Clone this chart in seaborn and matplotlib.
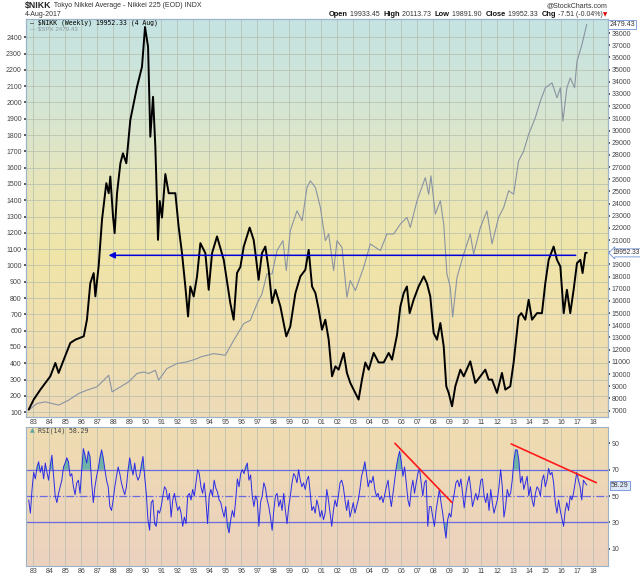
import numpy as np
import pandas as pd
import matplotlib
matplotlib.use("Agg")
import matplotlib.pyplot as plt
import matplotlib.transforms as mtransforms
from matplotlib.text import Annotation
from matplotlib.colors import LinearSegmentedColormap
import seaborn as sns

# --- data ---
nikkei_year = [1982.71, 1983.02, 1983.44, 1984.06, 1984.375, 1984.58, 1984.9, 1985.31, 1985.625, 1986.15,
               1986.35, 1986.56, 1986.77, 1986.875, 1987.08, 1987.29, 1987.40, 1987.56, 1987.71, 1987.81,
               1987.98, 1988.08, 1988.23, 1988.44, 1988.6, 1988.81, 1989.06, 1989.27, 1989.48, 1989.79,
               1989.98, 1990.17, 1990.31, 1990.48, 1990.625, 1990.73, 1990.79, 1990.9, 1991.04, 1991.25,
               1991.46, 1991.875, 1992.08, 1992.29, 1992.5, 1992.67, 1992.81, 1993.02, 1993.23, 1993.44,
               1993.75, 1993.96, 1994.17, 1994.48, 1994.9, 1995.31, 1995.52, 1995.73, 1995.94, 1996.15,
               1996.52, 1996.77, 1996.88, 1997.08, 1997.29, 1997.5, 1997.71, 1997.92, 1998.13, 1998.44,
               1998.81, 1999.06, 1999.38, 1999.69, 2000.0, 2000.21, 2000.42, 2000.63, 2000.84, 2001.04,
               2001.25, 2001.46, 2001.67, 2001.88, 2002.08, 2002.4, 2002.6, 2002.81, 2003.02, 2003.33,
               2003.54, 2003.75, 2003.96, 2004.27, 2004.58, 2004.9, 2005.21, 2005.42, 2005.73, 2005.94,
               2006.15, 2006.35, 2006.52, 2006.77, 2007.08, 2007.4, 2007.6, 2007.81, 2008.02, 2008.23,
               2008.44, 2008.65, 2008.81, 2008.96, 2009.17, 2009.375, 2009.69, 2009.9, 2010.31, 2010.625,
               2010.94, 2011.25, 2011.46, 2011.67, 2011.98, 2012.29, 2012.5, 2012.81, 2013.02, 2013.33,
               2013.5, 2013.75, 2013.96, 2014.17, 2014.48, 2014.79, 2015.0, 2015.21, 2015.52, 2015.73,
               2015.94, 2016.15, 2016.35, 2016.56, 2016.77, 2016.98, 2017.19, 2017.33, 2017.5, 2017.59]
nikkei_close = [7080, 7900, 8720, 9815, 10910, 10090, 11180, 12550, 12820, 13095,
                14460, 17470, 18290, 16380, 18840, 22660, 23890, 25680, 24850, 26220,
                22930, 21570, 24850, 27310, 28130, 27310, 30860, 32230, 33590, 35230,
                38500, 36870, 29490, 32770, 28670, 24030, 21020, 24210, 22850, 26430,
                24850, 24850, 22110, 19930, 17190, 14730, 17190, 16370, 18010, 20750,
                19930, 16920, 19930, 21300, 19380, 15830, 14460, 18300, 18800, 20470,
                22030, 21020, 19930, 17740, 19930, 20470, 18560, 15830, 16920, 15550,
                13090, 13910, 16650, 18020, 18560, 20200, 17190, 16650, 15280, 13640,
                14460, 12820, 9810, 10630, 10360, 11730, 10090, 9270, 8720, 7900,
                9540, 10950, 10360, 11730, 10950, 10950, 11730, 11180, 13200, 15550,
                16650, 17190, 15000, 16100, 17190, 18020, 17460, 16370, 13370, 12820,
                14190, 12270, 8990, 8450, 7350, 8990, 10360, 9810, 11040, 9270,
                9810, 10360, 9540, 9540, 8450, 10090, 8720, 8990, 10950, 14730,
                15000, 14460, 16100, 14460, 15000, 15000, 17460, 19380, 20470, 19380,
                18830, 15000, 16920, 15000, 16920, 19110, 19380, 18290, 19950, 19952.33]

spx_year = [1982.71, 1983.23, 1983.75, 1984.58, 1985.2, 1985.83, 1986.35, 1986.98, 1987.4, 1987.71,
            1987.92, 1988.44, 1988.96, 1989.48, 1989.9, 1990.21, 1990.625, 1990.83, 1991.35, 1991.98,
            1992.6, 1993.23, 1993.44, 1994.27, 1995.0, 1995.52, 1996.15, 1996.56, 1996.98, 1997.29,
            1997.6, 1997.92, 1998.23, 1998.6, 1998.81, 1999.06, 1999.48, 1999.8, 2000.1, 2000.31,
            2000.63, 2000.94, 2001.25, 2001.46, 2001.77, 2001.98, 2002.29, 2002.6, 2002.81, 2003.13,
            2003.65, 2004.06, 2004.69, 2005.1, 2005.52, 2005.94, 2006.35, 2006.56, 2006.98, 2007.5,
            2007.71, 2007.85, 2008.125, 2008.44, 2008.65, 2008.85, 2009.06, 2009.21, 2009.48, 2009.9,
            2010.31, 2010.52, 2010.94, 2011.35, 2011.67, 2012.08, 2012.4, 2012.71, 2013.02, 2013.33,
            2013.65, 2013.96, 2014.375, 2014.69, 2015.0, 2015.42, 2015.73, 2015.94, 2016.1, 2016.35,
            2016.56, 2016.83, 2016.98, 2017.29, 2017.59]
spx_close = [112, 153, 163, 143, 173, 214, 235, 255, 296, 326,
             224, 255, 286, 337, 346, 337, 357, 296, 367, 398,
             408, 428, 438, 459, 449, 540, 643, 663, 765, 826,
             948, 948, 1091, 1152, 968, 1213, 1335, 1274, 1478, 1519,
             1478, 1356, 1152, 1193, 968, 1152, 1111, 805, 907, 846,
             989, 1132, 1091, 1193, 1193, 1254, 1295, 1233, 1397, 1539,
             1437, 1550, 1315, 1397, 1254, 948, 866, 683, 927, 1070,
             1193, 1070, 1233, 1335, 1132, 1295, 1356, 1458, 1437, 1641,
             1702, 1805, 1906, 2008, 2090, 2120, 2029, 2090, 1886, 2090,
             2150, 2090, 2253, 2355, 2479.43]

rsi_values = [47, 37, 55, 68, 63, 72, 76, 68, 73, 63, 75, 68, 62, 73, 81, 65, 50, 45, 52, 57,
              62, 72, 75, 79, 76, 65, 67, 57, 51, 60, 62, 52, 70, 86, 81, 75, 84, 80, 60, 45,
              57, 65, 71, 79, 85, 79, 70, 62, 57, 42, 39, 47, 57, 65, 72, 67, 60, 55, 51, 57,
              70, 79, 72, 66, 75, 66, 62, 65, 73, 80, 65, 52, 32, 24, 45, 47, 29, 27, 39, 37,
              42, 50, 57, 55, 47, 52, 34, 47, 52, 45, 39, 42, 37, 27, 34, 29, 50, 52, 47, 55,
              50, 60, 70, 67, 57, 52, 60, 47, 29, 50, 55, 50, 62, 56, 53,
              47, 45, 39, 34, 42, 27, 22, 32, 39, 34, 47, 63, 57, 67, 70, 67, 72, 75, 62, 66,
              50, 42, 50, 47, 27, 45, 50, 60, 56, 47, 42, 34, 24, 39, 50, 52, 42, 47, 39, 52,
              39, 29, 42, 50, 60, 67, 65, 60, 70, 62, 57, 60, 55, 62, 65, 52, 39, 42, 37, 47,
              42, 34, 39, 32, 37, 55, 47, 37, 27, 39, 47, 42, 50, 60, 62, 57, 47, 39, 47, 34,
              39, 45, 37, 42, 47, 55, 65, 70, 76, 67, 57, 62, 60, 65, 55, 50, 52, 47, 50, 45,
              51, 57, 62, 50, 42, 52, 62, 72, 79, 84, 76, 65, 72, 60, 47, 42, 55, 62, 52, 60,
              67, 71, 60, 50, 60, 62, 27, 42,
              42, 34, 27, 39, 47, 55, 45, 37, 27, 18, 32, 37, 34, 45, 52, 60, 62, 57, 63, 52,
              41, 52, 60, 65, 55, 42, 47, 52, 47, 52, 62, 63, 50, 45, 52, 39, 55, 45, 37, 42,
              47, 57, 70, 57, 34, 42, 55, 50, 52, 62, 77, 85, 85, 77, 60, 65, 55, 60, 65, 50,
              57, 47, 42, 52, 57, 55, 50, 62, 66, 57, 62, 71, 66, 68, 60, 45, 37, 47, 39, 33,
              27, 39, 45, 39, 50, 47, 52, 60, 68, 62, 57, 47, 62, 60, 58.29]
rsi_first, rsi_last = 1982.71, 2017.59

year_ticks = list(range(1983, 2019))
year_labels = [f"{y % 100:02d}" for y in year_ticks]
spx_ticks = list(range(100, 2401, 100))
nikkei_ticks = list(range(7000, 38001, 1000))
rsi_ticks = [10, 30, 50, 70, 90]

trend1_x, trend1_y = [2005.6, 2009.17], [90, 45]
trend2_x, trend2_y = [2012.87, 2018.19], [89.5, 60.1]
level_from, level_to, level_value = 2016.9, 1987.7, 19750

nikkei_df = pd.DataFrame({"year": nikkei_year, "close": nikkei_close})
spx_df = pd.DataFrame({"year": spx_year, "close": spx_close})
rsi_df = pd.DataFrame({"year": np.linspace(rsi_first, rsi_last, len(rsi_values)), "rsi": rsi_values})

sns.set_theme(style="white")
plt.rcParams["font.family"] = ["Liberation Sans", "DejaVu Sans"]

W, H = 640, 576
fig = plt.figure(figsize=(W / 100, H / 100), dpi=100)
fig.patch.set_facecolor("white")


def rect(x0, y0, x1, y1):
    return [x0 / W, 1 - y1 / H, (x1 - x0) / W, (y1 - y0) / H]


main_rect = rect(26, 19, 607.7, 417)
rsi_rect = rect(26, 426.7, 607.7, 565.7)


def gradient(r, colors):
    bg = fig.add_axes(r, zorder=0)
    cmap = LinearSegmentedColormap.from_list("bg", colors)
    bg.imshow(np.linspace(0, 1, 256).reshape(-1, 1), aspect="auto", cmap=cmap,
              extent=[0, 1, 0, 1], origin="upper")
    bg.set_axis_off()


gradient(main_rect, ["#c4e3e2", "#d3e5d6", "#e6e6bc", "#f1e5a8", "#f0dfb0", "#eedbb8"])
gradient(rsi_rect, ["#efdcb0", "#edd6b8", "#ebd2c0"])

grid_c = "#b4bdad"
spine_c = "#9db3c8"
tick_c = "#444444"
xlim = (1982.54, 2018.9)

# --- price panel ---
ax = fig.add_axes(main_rect, zorder=1)
ax.set_facecolor("none")
sns.lineplot(data=spx_df, x="year", y="close", ax=ax, color="#8a94a2", lw=0.8,
             estimator=None, sort=False)
ax.set_xlim(*xlim)
ax.set_ylim(70, 2512)
ax.set_yticks(spx_ticks)
ax.set_xticks(year_ticks)
ax.set_xticklabels(year_labels)
ax.grid(True, color=grid_c, lw=0.5)
ax.tick_params(axis="y", labelsize=5, length=1.5, pad=1.5, colors=tick_c, left=True)
ax.tick_params(axis="x", labelsize=5, length=0, pad=1.5, colors=tick_c, bottom=True)
ax.set_xlabel("")
ax.set_ylabel("")

ax2 = ax.twinx()
sns.lineplot(data=nikkei_df, x="year", y="close", ax=ax2, color="black", lw=1.4,
             estimator=None, sort=False)
ax2.set_ylim(6470, 39160)
ax2.set_yticks(nikkei_ticks)
ax2.set_yticklabels(["" if t == 20000 else str(t) for t in nikkei_ticks])
ax2.tick_params(axis="y", labelsize=5, length=1.5, pad=1.5, colors=tick_c, right=True)
ax2.set_ylabel("")
ax2.set_xlim(*xlim)
ax2.annotate("", xy=(level_to, level_value), xytext=(level_from, level_value),
             arrowprops=dict(arrowstyle="-|>", color="#0000dd", lw=1.1,
                             mutation_scale=9, shrinkA=0, shrinkB=0))
for a in (ax, ax2):
    for s in a.spines.values():
        s.set_color(spine_c)
        s.set_linewidth(0.8)

right_tr = mtransforms.blended_transform_factory(ax.transAxes, ax.transData)
ax.text(1.003, spx_close[-1], f"{spx_close[-1]:.2f}", transform=right_tr, fontsize=5,
        va="center", ha="left", color="#333333",
        bbox=dict(boxstyle="square,pad=0.15", fc="white", ec="#6c8fd4", lw=0.6))
right_tr2 = mtransforms.blended_transform_factory(ax2.transAxes, ax2.transData)
ax2.text(1.009, nikkei_close[-1], f"{nikkei_close[-1]:.2f}", transform=right_tr2, fontsize=4.8,
         va="center", ha="left", color="#333333",
         bbox=dict(boxstyle="larrow,pad=0.08", fc="white", ec="#6c8fd4", lw=0.6))

ax.text(0.007, 0.991, "— $NIKK (Weekly) 19952.33 (4 Aug)", transform=ax.transAxes,
        fontsize=4.7, family=["DejaVu Sans Mono"], color="black", va="center", ha="left")
ax.text(0.007, 0.975, "— $SPX 2479.43", transform=ax.transAxes, fontsize=4.4,
        color="#8a94a2", va="center", ha="left")

# --- RSI panel ---
rax = fig.add_axes(rsi_rect, zorder=1)
rax.set_facecolor("none")
rx = rsi_df["year"].to_numpy()
ry = rsi_df["rsi"].to_numpy()
rax.fill_between(rx, ry, 70, where=ry > 70, interpolate=True, color="#6fb2a6", lw=0)
rax.fill_between(rx, ry, 30, where=ry < 30, interpolate=True, color="#6fb2a6", lw=0)
for lvl in (70, 30):
    rax.axhline(lvl, color="#6a6ae0", lw=0.9)
rax.axhline(50, color="#6a6ae0", lw=0.9, ls="-.")
sns.lineplot(data=rsi_df, x="year", y="rsi", ax=rax, color="#2b2be6", lw=0.7,
             estimator=None, sort=False)
rax.plot(trend1_x, trend1_y, color="#ff1a1a", lw=1.2)
rax.plot(trend2_x, trend2_y, color="#ff1a1a", lw=1.2)
rax.set_xlim(*xlim)
rax.set_ylim(-2.9, 102.6)
rax.set_xticks(year_ticks)
rax.set_xticklabels(year_labels)
rax.xaxis.grid(True, color=grid_c, lw=0.5)
rax.yaxis.tick_right()
rax.set_yticks(rsi_ticks)
rax.tick_params(axis="y", labelsize=5, length=1.5, pad=1.5, colors=tick_c, right=True, left=False)
rax.tick_params(axis="x", labelsize=5, length=0, pad=1.5, colors=tick_c, bottom=True)
rax.set_xlabel("")
rax.set_ylabel("")
for s in rax.spines.values():
    s.set_color(spine_c)
    s.set_linewidth(0.8)
rtr = mtransforms.blended_transform_factory(rax.transAxes, rax.transData)
rax.text(1.006, rsi_values[-1], f"{rsi_values[-1]:.2f}", transform=rtr, fontsize=5,
         va="center", ha="left", color="#333333",
         bbox=dict(boxstyle="square,pad=0.15", fc="#dfe8f8", ec="#6c8fd4", lw=0.6))
rax.text(0.007, 0.971, "▲", transform=rax.transAxes, fontsize=4.5, color="#5aa5a0",
         va="center", ha="left", family=["DejaVu Sans"])
rax.text(0.02, 0.971, "RSI(14) 58.29", transform=rax.transAxes, fontsize=4.7,
         family=["DejaVu Sans Mono"], color="#444444", va="center", ha="left")

# --- header ---
title = fig.text(25 / W, 1 - 5.5 / H, "$NIKK", fontsize=6.3, weight="bold", va="center", ha="left")
fig.add_artist(Annotation(" Tokyo Nikkei Average - Nikkei 225 (EOD) INDX", xy=(1, 0.5),
                          xycoords=title, va="center", ha="left", fontsize=5, color="#333333"))
fig.text(25 / W, 1 - 14.5 / H, "4-Aug-2017", fontsize=5, color="#333333", va="center", ha="left")
fig.text(607 / W, 1 - 6 / H, "@StockCharts.com", fontsize=5, color="#333333",
         va="center", ha="right")

pieces = [("Open", True), (" 19933.45  ", False), ("High", True), (" 20113.73  ", False),
          ("Low", True), (" 19891.90  ", False), ("Close", True), (" 19952.33  ", False),
          ("Chg", True), (" -7.51 (-0.04%)", False)]
cur = fig.text(607 / W, 1 - 15 / H, "▼", fontsize=4, color="#dd0000", va="center", ha="right",
               family=["DejaVu Sans"])
for txt, bold in reversed(pieces):
    cur = fig.add_artist(Annotation(
        txt, xy=(0, 0.5), xycoords=cur, va="center", ha="right",
        fontsize=5.4 if bold else 5, weight="bold" if bold else "normal",
        color="#111111" if bold else "#333333"))

fig.savefig("out.png", dpi=100, facecolor="white")
